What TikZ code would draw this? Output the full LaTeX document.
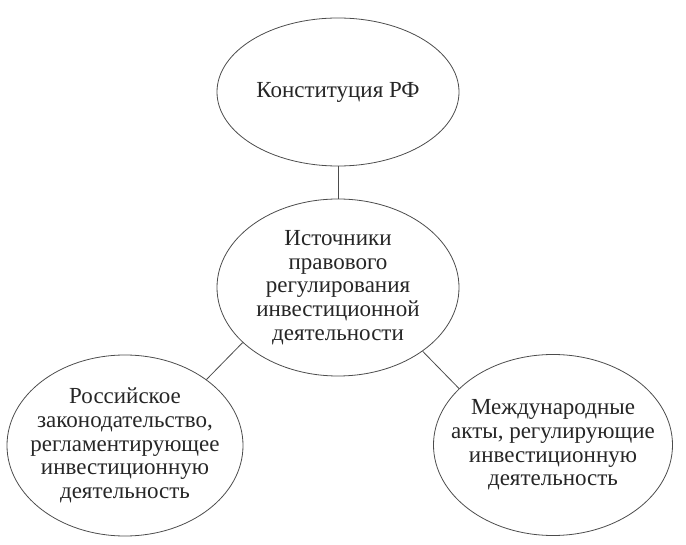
\documentclass[tikz,border=0pt]{standalone}
\usepackage{fontspec}
\setmainfont{Liberation Serif}
\usetikzlibrary{shapes.geometric}
\tikzset{src/.style={ellipse, draw=black!70, line width=0.8pt, text=black!85,
    align=center, inner xsep=-20pt, inner ysep=0pt, font=\fontsize{23}{23.6}\selectfont}}

\begin{document}
\begin{tikzpicture}[x=1pt,y=-1pt]
    \useasboundingbox (0,0) rectangle (686,545);

    \node [src, minimum width=242pt, minimum height=148pt] (konst) at (338,92) {Конституция РФ};
    \node [src, minimum width=242pt, minimum height=177pt] (istoch) at (338,287.5)
        {Источники\\правового\\регулирования\\инвестиционной\\деятельности};
    \node [src, minimum width=236pt, minimum height=181pt] (ross) at (125,445.5)
        {Российское\\законодательство,\\регламентирующее\\инвестиционную\\деятельность};
    \node [src, minimum width=239pt, minimum height=181pt] (mezhd) at (553,445)
        {Международные\\акты, регулирующие\\инвестиционную\\деятельность};

    \draw [black!70, line width=0.8pt] (konst) -- (istoch);
    \draw [black!70, line width=0.8pt] (istoch.210) -- (ross.39);
    \draw [black!70, line width=0.8pt] (istoch.323) -- (mezhd.149);
\end{tikzpicture}
\end{document}
